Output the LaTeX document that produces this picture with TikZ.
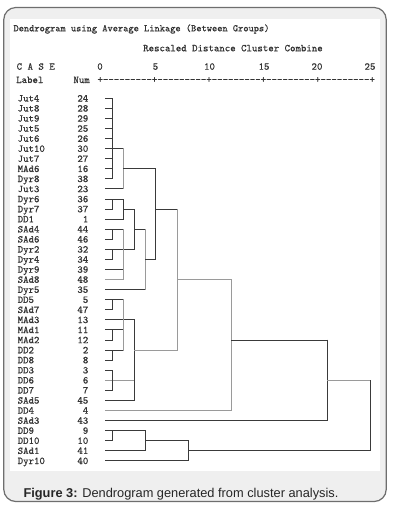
\documentclass[tikz,border=0pt]{standalone}
\usepackage{fontspec}
\newfontfamily\capfont{Liberation Sans}
\newfontfamily\spssfont{lmmono10-regular.otf}[FakeBold=0.6]
\definecolor{txt}{HTML}{333333}
\definecolor{dkline}{HTML}{3A3A3A}
\definecolor{ltline}{HTML}{9A9A9A}
\definecolor{panelgrey}{HTML}{EFEFEF}
\definecolor{bordergrey}{HTML}{6E6E6E}
\newcommand\rowy[1]{98.3+10.07*#1}
\newcommand\hseg[4][dk]{\draw[#1] (#2,{\rowy{#4}}) -- (#3,{\rowy{#4}});}
\newcommand\vseg[4][dk]{\draw[#1] (#2,{\rowy{#3}}) -- (#2,{\rowy{#4}});}
\begin{document}
\begin{tikzpicture}[x=1pt,y=-1pt,
  lbl/.style={inner sep=0pt, text=txt, font=\spssfont\fontsize{10.36}{12}\selectfont},
  dk/.style={draw=dkline, line width=0.9pt, line cap=rect},
  lt/.style={draw=ltline, line width=0.9pt, line cap=rect}]
\useasboundingbox (0,0) rectangle (393,506);
% frame
\draw[rounded corners=12pt, fill=panelgrey, draw=bordergrey, line width=1.2pt] (3.8,7.5) rectangle (386.2,501.5);
\fill[white] (10,19) rectangle (380,471);
% header
\node[lbl, anchor=base west, font=\spssfont\fontsize{9.95}{12}\selectfont] (title) at (13.3,31.3) {Dendrogram using Average Linkage (Between Groups)};
\node[lbl, anchor=base west] (rdcc) at (143,51.3) {Rescaled Distance Cluster Combine};
\node[lbl, anchor=base west] (case) at (16.5,69.7) {C A S E};
\node[lbl, anchor=base] (s0) at (100,69.7) {0};
\node[lbl, anchor=base] (s5) at (155.5,69.7) {5};
\node[lbl, anchor=base] (s10) at (209.5,69.7) {10};
\node[lbl, anchor=base] (s15) at (264,69.7) {15};
\node[lbl, anchor=base] (s20) at (317,69.7) {20};
\node[lbl, anchor=base] (s25) at (370,69.7) {25};
\node[lbl, anchor=base west] (labh) at (16,83) {Label};
\node[lbl, anchor=base east] (numh) at (90,83) {Num};
\node[lbl, anchor=base west] (axis) at (97.3,82.6) {+---------+---------+---------+---------+---------+};
% case labels
\foreach \lab/\num [count=\i from 0] in {Jut4/24,Jut8/28,Jut9/29,Jut5/25,Jut6/26,Jut10/30,Jut7/27,MAd6/16,Dyr8/38,Jut3/23,Dyr6/36,Dyr7/37,DD1/1,SAd4/44,SAd6/46,Dyr2/32,Dyr4/34,Dyr9/39,SAd8/48,Dyr5/35,DD5/5,SAd7/47,MAd3/13,MAd1/11,MAd2/12,DD2/2,DD8/8,DD3/3,DD6/6,DD7/7,SAd5/45,DD4/4,SAd3/43,DD9/9,DD10/10,SAd1/41,Dyr10/40}{
  \node[lbl, anchor=base west] (lab\i) at (17.5,{\rowy{\i}+3.2}) {\lab};
  \node[lbl, anchor=base east] (num\i) at (88.5,{\rowy{\i}+3.2}) {\num};
}
% ---- dendrogram ----
% cluster A rows 0-9
\foreach \r in {0,1,2,3,4,6,7,8}{\hseg{105.5}{112.7}{\r}}
\hseg{105.5}{123.3}{5}
\hseg{105.5}{123.3}{9}
\vseg{112.7}{0}{8}
\vseg[lt]{123.3}{5}{9}
\hseg{123.3}{155.7}{7}
% cluster rows 10-19
\hseg{105.5}{123.3}{10}
\hseg{105.5}{112.7}{11}
\hseg{105.5}{123.3}{12}
\vseg{112.7}{10}{11}
\vseg{123.3}{10}{12}
\hseg{123.3}{134.3}{11}
\hseg{105.5}{123.3}{13}
\hseg{105.5}{112.7}{14}
\vseg{112.7}{13}{14}
\hseg{105.5}{134.3}{15}
\hseg{105.5}{112.7}{16}
\vseg{112.7}{15}{16}
\hseg{105.5}{123.3}{17}
\hseg[lt]{105.5}{123.3}{18}
\vseg[lt]{123.3}{13}{18}
\vseg{134.3}{11}{15}
\hseg{134.3}{145}{13}
\hseg{105.5}{145}{19}
\vseg[lt]{145}{13}{19}
\hseg{145}{155.7}{16}
\vseg{155.7}{7}{16}
\hseg{155.7}{177.3}{11}
% cluster rows 20-30
\hseg{105.5}{123.3}{20}
\hseg{105.5}{112.7}{21}
\vseg{112.7}{20}{21}
\hseg{105.5}{134.3}{22}
\hseg{105.5}{123.3}{23}
\hseg{105.5}{112.7}{24}
\vseg{112.7}{23}{24}
\hseg{105.5}{123.3}{25}
\hseg{105.5}{112.7}{26}
\vseg{112.7}{25}{26}
\vseg[lt]{123.3}{20}{25}
\hseg{105.5}{112.7}{27}
\hseg[lt]{105.5}{134.3}{28}
\hseg{105.5}{112.7}{29}
\vseg{112.7}{27}{29}
\hseg{105.5}{134.3}{30}
\vseg{134.3}{22}{30}
\hseg[lt]{134.3}{177.3}{25}
\vseg[lt]{177.3}{11}{25}
% upper joins
\hseg[lt]{177.3}{231}{18}
\hseg[lt]{105.5}{231}{31}
\vseg[lt]{231}{18}{31}
\hseg{231}{327.7}{24}
\hseg{105.5}{327.7}{32}
\vseg{327.7}{24}{32}
\hseg[lt]{327.7}{370.7}{28}
% cluster rows 33-36
\hseg{105.5}{145}{33}
\hseg{105.5}{112.7}{34}
\vseg{112.7}{33}{34}
\hseg{105.5}{145}{35}
\vseg{145}{33}{35}
\hseg{145}{188.3}{34}
\hseg{105.5}{188.3}{36}
\vseg{188.3}{34}{36}
\hseg{188.3}{370.7}{35}
\vseg{370.7}{28}{35}
% caption
\node[inner sep=0pt, anchor=base west, text=black!85, font=\capfont\fontsize{12.8}{15}\selectfont] (cap) at (23.3,497.3) {\textbf{Figure 3:} Dendrogram generated from cluster analysis.};
\end{tikzpicture}
\end{document}
